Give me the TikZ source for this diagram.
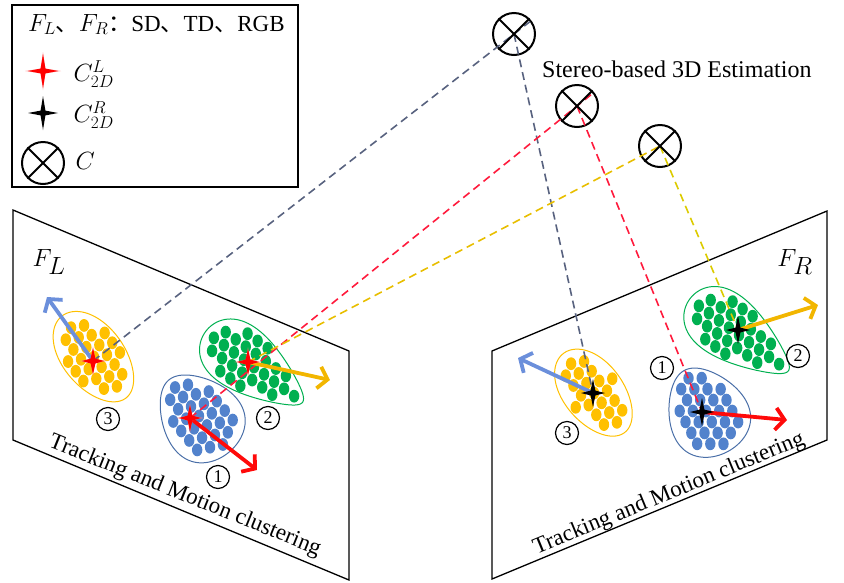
\documentclass[tikz,border=0pt]{standalone}
\usepackage{fontspec}
\setmainfont{Liberation Serif}
\newfontfamily\cjk{Noto Sans CJK SC}
\usetikzlibrary{arrows.meta,calc}

\definecolor{ydot}{HTML}{FFC000}
\definecolor{gdot}{HTML}{00B050}
\definecolor{bdot}{HTML}{5282CC}
\definecolor{bline}{HTML}{4A6FA8}
\definecolor{slate}{HTML}{58627F}
\definecolor{dred}{HTML}{FF1A3C}
\definecolor{dyel}{HTML}{E8BE00}
\definecolor{dyel2}{HTML}{DCCB00}
\definecolor{ablue}{HTML}{6B8FDB}
\definecolor{ayel}{HTML}{F2B600}
\definecolor{ared}{HTML}{FF0A0A}

% #1 cx, #2 cy, #3 angle, #4 a, #5 b, #6 taper k, #7 dot colour, #8 outline colour
\newcommand{\blob}[8]{%
\begin{scope}[shift={(#1,#2)},rotate=#3]
  \pgfmathsetmacro\negang{-(#3)}
  \foreach \r in {-4,...,4}{
    \foreach \c in {-6,...,6}{
      \pgfmathsetmacro\uu{\c*12.4+mod(abs(\r),2)*6.2}
      \pgfmathsetmacro\vv{\r*11.6}
      \pgfmathsetmacro\ta{(\uu)/(#4-6.5)}
      \pgfmathsetmacro\tb{(\vv)/((#5-6.5)*(1-(#6)*(\uu)/(#4)))}
      \pgfmathtruncatemacro\inside{((\ta)*(\ta)+(\tb)*(\tb))<1}
      \ifnum\inside=1
        \fill[#7, rotate around={\negang:(\uu,\vv)}] (\uu,\vv) ellipse[x radius=5.2, y radius=6.4];
      \fi
    }
  }
  \draw[#8, line width=1pt] plot[domain=0:360, samples=100] ({#4*cos(\x)},{#5*sin(\x)*(1-(#6)*cos(\x))}) -- cycle;
\end{scope}}

% #1 coordinate name, #2 colour, #3 horizontal arm, #4 vertical arm
\newcommand{\starat}[4]{%
\begin{scope}[shift={(#1)}]
  \fill[#2] (#3,0) -- (2.4,2.4) -- (0,#4) -- (-2.4,2.4) -- (-#3,0) -- (-2.4,-2.4) -- (0,-#4) -- (2.4,-2.4) -- cycle;
\end{scope}}

\tikzset{
  panel/.style={draw=black, line width=1.3pt},
  xcirc/.style={circle, draw=black, line width=2pt, minimum size=42pt, inner sep=0pt},
  xl/.style={line width=2pt},
  num/.style={circle, draw=black, line width=1.2pt, minimum size=23pt, inner sep=0pt, font=\fontsize{18}{18}\selectfont},
  dline/.style={dash pattern=on 8pt off 5pt, line width=1.6pt},
  mv/.style={line width=3.8pt, -{Straight Barb[length=9pt,width=22pt]}},
  big/.style={font=\fontsize{23}{26}\selectfont},
  captext/.style={font=\fontsize{23}{26}\selectfont},
  huge/.style={font=\fontsize{34}{38}\selectfont}
}

\begin{document}
\begin{tikzpicture}[x=1pt,y=-1pt]
\useasboundingbox (0,0) rectangle (844,582);

% legend
\node[draw=black, line width=2pt, minimum width=286pt, minimum height=182pt, anchor=north west, inner sep=0pt] (legend) at (11,4) {};
\node[big, anchor=base west, inner sep=0pt] (lt) at (28,31) {$F_L${\cjk 、}$F_R${\cjk ：}SD{\cjk 、}TD{\cjk 、}RGB};
\coordinate (lgs1) at (43,71);
\coordinate (lgs2) at (43,113);
\starat{lgs1}{red!40}{18}{19}
\starat{lgs1}{red}{15}{17}
\starat{lgs2}{black}{15}{17}
\node[big, anchor=west] (lcl) at (70,74) {$C^{L}_{2D}$};
\node[big, anchor=west] (lcr) at (70,115) {$C^{R}_{2D}$};
\node[xcirc] (lc) at (43,163) {};
\draw[xl] (lc.north west) -- (lc.south east) (lc.north east) -- (lc.south west);
\node[big, anchor=west] (lcc) at (72,161) {$C$};

% panels
\draw[panel] (13,210) -- (349,351) -- (349,580) -- (13,440) -- cycle;
\draw[panel] (492,351) -- (827,211) -- (827,440) -- (492,579) -- cycle;
\node[huge] (fl) at (49,262) {$F_L$};
\node[huge] (fr) at (795,262) {$F_R$};

% clusters
\blob{94}{357}{-52}{52}{31}{0.05}{ydot}{ydot}
\blob{254}{367}{-36}{60}{30}{0.45}{gdot}{gdot}
\blob{199}{416}{-50}{47}{39}{-0.25}{bdot}{bline}
\blob{594}{393}{-52}{50}{30}{0.05}{ydot}{ydot}
\blob{739}{335}{-36}{61}{30}{0.45}{gdot}{gdot}
\blob{706}{411}{-62}{46}{39}{-0.25}{bdot}{bline}

% centroids and motion end points
\coordinate (ls3) at (93,361);
\coordinate (ls2) at (248,362);
\coordinate (ls1) at (190,418);
\coordinate (rs3) at (593,393);
\coordinate (rs2) at (738,330);
\coordinate (rs1) at (702,412);
\coordinate (la3) at (47,297);
\coordinate (la2) at (330,380);
\coordinate (la1) at (257,470);
\coordinate (ra3) at (518,358);
\coordinate (ra2) at (818,305);
\coordinate (ra1) at (787,420);

% 3D points
\node[xcirc] (c1) at (514,34) {};
\node[xcirc] (c2) at (577,106) {};
\node[xcirc] (c3) at (660,146) {};
\node[anchor=base west, inner sep=0pt, font=\fontsize{24}{26}\selectfont] (title) at (542,77) {Stereo-based 3D Estimation};

% projection lines
\draw[dline, slate] (ls3) -- ($(ls3)!1.038!(c1.center)$);
\draw[dline, slate] (c1.center) -- (rs3);
\draw[dline, dred] (ls1) -- ($(ls1)!1.04!(c2.center)$);
\draw[dline, dred] (c2.center) -- (rs1);
\draw[dline, dyel] (ls2) -- (c3.center);
\draw[dline, dyel2] (c3.center) -- (rs2);

\foreach \c in {c1,c2,c3}{
  \draw[xl] (\c.north west) -- (\c.south east) (\c.north east) -- (\c.south west);
}

% motion arrows
\draw[mv, ablue] (ls3) -- (la3);
\draw[mv, ayel] (ls2) -- (la2);
\draw[mv, ared] (ls1) -- (la1);
\draw[mv, ablue] (rs3) -- (ra3);
\draw[mv, ayel] (rs2) -- (ra2);
\draw[mv, ared] (rs1) -- (ra1);

% centroid stars
\foreach \s in {ls1,ls2,ls3}{
  \starat{\s}{red!45, opacity=0.6}{14}{15}
  \starat{\s}{red}{11}{13}
}
\foreach \s in {rs1,rs2,rs3}{
  \starat{\s}{black}{12}{14}
}

% cluster numbers
\node[num] (n3l) at (108,419) {3};
\node[num] (n2l) at (268,418) {2};
\node[num] (n1l) at (218,477) {1};
\node[num] (n3r) at (567,433) {3};
\node[num] (n2r) at (798,356) {2};
\node[num] (n1r) at (662,368) {1};

% edge captions
\node[captext, rotate=-22] (capl) at (185,496) {Tracking and Motion clustering};
\node[captext, rotate=22.4] (capr) at (669,494) {Tracking and Motion clustering};
\end{tikzpicture}
\end{document}
